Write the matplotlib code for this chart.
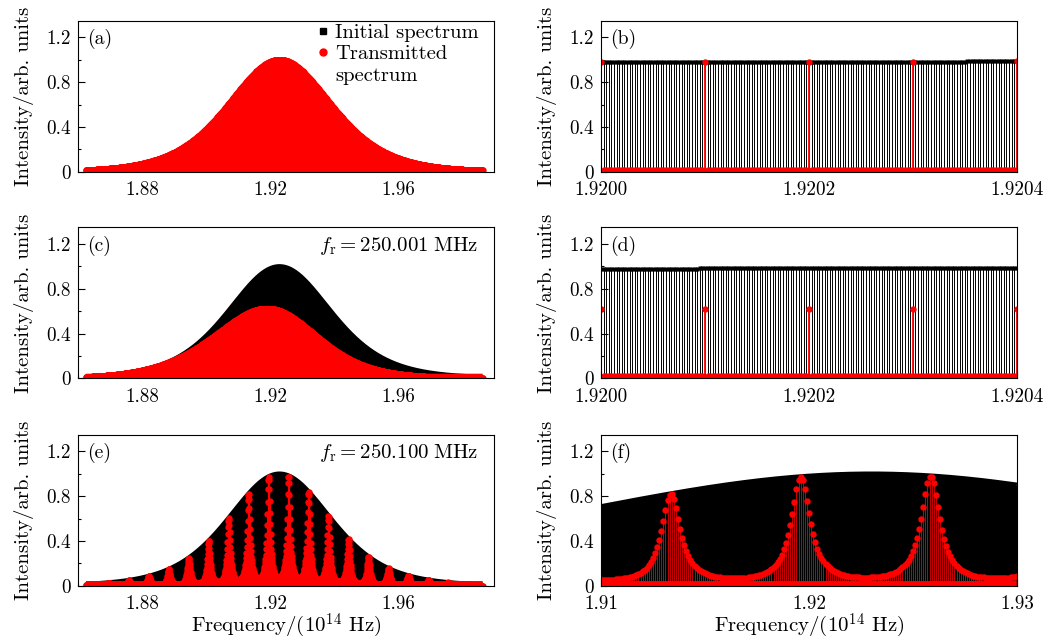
import numpy as np
import matplotlib
matplotlib.use('Agg')
import matplotlib.pyplot as plt
from matplotlib.lines import Line2D
from matplotlib.ticker import MultipleLocator, FormatStrFormatter, FuncFormatter

plt.rcParams['font.family'] = 'serif'
plt.rcParams['font.serif'] = ['cmr10']
plt.rcParams['mathtext.fontset'] = 'cm'
plt.rcParams['axes.unicode_minus'] = False
plt.rcParams['axes.formatter.use_mathtext'] = True
plt.rcParams['font.size'] = 13.8

# frequencies are in units of 1e14 Hz
span = [1.8625, 1.9865]          # simulated spectral window
pulse_center = 1.923             # sech^2 envelope of the input pulse
pulse_width = 0.0215
pulse_peak = 1.0

comb_MHz = 250.0                 # nominal line spacing of the comb
cavity_fsr_GHz = 10.0            # filter cavity passes every 40th line
cavity_hwhm_MHz = 22.5
rep_detuning_MHz = [0.0, 0.001, 0.100]   # f_r - 250 MHz for rows 1..3
rep_text = ['', '250.001', '250.100']
lock_freq = [1.92, 1.8776, 1.9196]       # where comb and cavity coincide
floor_level = 0.018                      # blocked lines sit on the baseline

zoom_ranges = [(1.9200, 1.9204), (1.9200, 1.9204), (1.91, 1.93)]
zoom_fmt = ['%.4f', '%.4f', '%.2f']
zoom_major = [0.0002, 0.0002, 0.01]
zoom_minor = [0.0001, 0.0001, 0.005]
panel_tags = [['(a)', '(b)'], ['(c)', '(d)'], ['(e)', '(f)']]

comb_step = comb_MHz * 1e6 / 1e14
fsr_step = cavity_fsr_GHz * 1e9 / 1e14
lines_per_fsr = int(round(fsr_step / comb_step))

LABEL_SIZE = 15.0
TEXT_SIZE = 14.2


def envelope(x):
    return pulse_peak / np.cosh((x - pulse_center) / pulse_width) ** 2


def transmission(x, detune, x_lock):
    # Vernier walk-off of comb lines against the cavity modes (Airy response)
    if detune == 0:
        return np.ones_like(x)
    walk = (x - x_lock) / comb_step * detune
    F = 1.0 / np.sin(np.pi * cavity_hwhm_MHz / comb_MHz) ** 2
    return 1.0 / (1.0 + F * np.sin(np.pi * walk / comb_MHz) ** 2)


def grid(lo, hi, step):
    k = np.arange(int(round(lo / step)), int(round(hi / step)) + 1)
    return k, k * step


def style_axes(ax):
    ax.set_ylim(0, 1.35)
    ax.yaxis.set_major_locator(MultipleLocator(0.4))
    ax.yaxis.set_minor_locator(MultipleLocator(0.2))
    ax.yaxis.set_major_formatter(FuncFormatter(lambda v, p: '0' if abs(v) < 1e-9 else '%.1f' % v))
    ax.tick_params(which='both', direction='in', top=False, right=False, width=0.8)
    ax.tick_params(which='major', length=5)
    ax.tick_params(axis='y', which='major', pad=5)
    ax.tick_params(axis='x', which='major', pad=7)
    ax.tick_params(which='minor', length=2.5)
    for sp in ax.spines.values():
        sp.set_linewidth(0.8)
    ax.set_ylabel('Intensity/arb. units', fontsize=LABEL_SIZE, labelpad=9)


def draw_dense(ax, lo, hi, row, stem_lw):
    # black: every comb line, too dense to resolve, drawn as filled envelope
    xf = np.linspace(lo, hi, 3000)
    ax.fill_between(xf, 0, envelope(xf), color='black', lw=0)
    ax.plot(xf, envelope(xf), color='black', lw=3.4, solid_capstyle='butt')
    ax.plot(xf, np.full_like(xf, floor_level), color='red', lw=3.8, solid_capstyle='butt')
    # red: lines sitting on cavity modes
    _, xm = grid(lo, hi, fsr_step)
    ym = envelope(xm) * transmission(xm, rep_detuning_MHz[row], lock_freq[row])
    ax.vlines(xm, 0, ym, color='red', lw=stem_lw)
    ax.plot(xm, ym, 'o', color='red', ms=4.6, mec='none')


def draw_lines(ax, lo, hi, row):
    k, xl = grid(lo, hi, comb_step)
    env = envelope(xl)
    ax.vlines(xl, 0, env, color='black', lw=0.7)
    ax.plot(xl, env, 's', color='black', ms=3.3, mec='none')
    on_mode = (k % lines_per_fsr) == 0
    ax.plot(xl[~on_mode], np.full(np.sum(~on_mode), floor_level), 'o', color='red', ms=4.6, mec='none')
    yt = env[on_mode] * transmission(xl[on_mode], rep_detuning_MHz[row], lock_freq[row])
    ax.vlines(xl[on_mode], 0, yt, color='red', lw=1.3)
    ax.plot(xl[on_mode], yt, 'o', color='red', ms=4.6, mec='none')


fig = plt.figure(figsize=(10.5, 6.42), dpi=100)
col_x = [0.0743, 0.5724]
row_y = [0.7326, 0.4107, 0.0877]
ax_w, ax_h = 0.396, 0.2352

for row in range(3):
    # full spectrum
    ax = fig.add_axes([col_x[0], row_y[row], ax_w, ax_h])
    draw_dense(ax, span[0], span[1], row, 0.8)
    ax.set_xlim(1.86, 1.99)
    ax.xaxis.set_major_locator(MultipleLocator(0.04))
    ax.xaxis.set_minor_locator(MultipleLocator(0.02))
    ax.xaxis.set_major_formatter(FormatStrFormatter('%.2f'))
    style_axes(ax)
    ax.text(0.021, 0.877, panel_tags[row][0], transform=ax.transAxes, va='center', ha='left',
            fontsize=TEXT_SIZE)
    if rep_text[row]:
        ax.text(0.962, 0.877, r'$f_\mathrm{r} = %s\;\mathrm{MHz}$' % rep_text[row],
                transform=ax.transAxes, va='center', ha='right', fontsize=15)
    if row == 0:
        handles = [Line2D([], [], marker='s', color='black', ls='none', ms=4.5),
                   Line2D([], [], marker='o', color='red', ls='none', ms=5),
                   Line2D([], [], ls='none')]
        ax.legend(handles, ['Initial spectrum', 'Transmitted', 'spectrum'],
                  loc='upper right', bbox_to_anchor=(0.972, 1.0), frameon=False,
                  handlelength=0.6, handletextpad=0.3, labelspacing=0.14,
                  borderaxespad=0.0, borderpad=0.15, fontsize=14.8)
    if row == 2:
        ax.set_xlabel('Frequency/(10$^{14}$ Hz)', fontsize=LABEL_SIZE, labelpad=-1.0)

    # zoomed view
    ax = fig.add_axes([col_x[1], row_y[row], ax_w, ax_h])
    lo, hi = zoom_ranges[row]
    if row < 2:
        draw_lines(ax, lo, hi, row)
    else:
        draw_dense(ax, lo, hi, row, 0.55)
    ax.set_xlim(lo, hi)
    ax.xaxis.set_major_locator(MultipleLocator(zoom_major[row]))
    ax.xaxis.set_minor_locator(MultipleLocator(zoom_minor[row]))
    ax.xaxis.set_major_formatter(FormatStrFormatter(zoom_fmt[row]))
    style_axes(ax)
    ax.text(0.021, 0.877, panel_tags[row][1], transform=ax.transAxes, va='center', ha='left',
            fontsize=TEXT_SIZE)
    if row == 2:
        ax.set_xlabel('Frequency/(10$^{14}$ Hz)', fontsize=LABEL_SIZE, labelpad=-1.0)

fig.savefig('out.png', dpi=100)
